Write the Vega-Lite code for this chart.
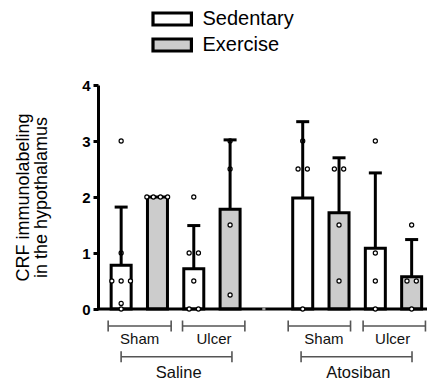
{
  "$schema": "https://vega.github.io/schema/vega-lite/v6.json",
  "width": 329,
  "height": 224,
  "autosize": {"type": "none"},
  "padding": {"left": 98, "top": 85, "right": 0, "bottom": 72},
  "config": {"view": {"stroke": null}, "font": "Liberation Sans"},
  "datasets": {
    "bars": [
      {"treatment": "Saline", "surgery": "Sham", "activity": "Sedentary", "slot": 1, "mean": 0.78, "upper": 1.82},
      {"treatment": "Saline", "surgery": "Sham", "activity": "Exercise", "slot": 2, "mean": 2.0, "upper": 2.0},
      {"treatment": "Saline", "surgery": "Ulcer", "activity": "Sedentary", "slot": 3, "mean": 0.72, "upper": 1.49},
      {"treatment": "Saline", "surgery": "Ulcer", "activity": "Exercise", "slot": 4, "mean": 1.78, "upper": 3.02},
      {"treatment": "Atosiban", "surgery": "Sham", "activity": "Sedentary", "slot": 6, "mean": 1.98, "upper": 3.345},
      {"treatment": "Atosiban", "surgery": "Sham", "activity": "Exercise", "slot": 7, "mean": 1.72, "upper": 2.7},
      {"treatment": "Atosiban", "surgery": "Ulcer", "activity": "Sedentary", "slot": 8, "mean": 1.085, "upper": 2.43},
      {"treatment": "Atosiban", "surgery": "Ulcer", "activity": "Exercise", "slot": 9, "mean": 0.577, "upper": 1.24}
    ],
    "points": [
      {"slot": 1, "v": 3, "j": 0}, {"slot": 1, "v": 1, "j": 0}, {"slot": 1, "v": 0.5, "j": -1}, {"slot": 1, "v": 0.5, "j": 0}, {"slot": 1, "v": 0.5, "j": 1}, {"slot": 1, "v": 0.1, "j": 0}, {"slot": 1, "v": 0, "j": 0},
      {"slot": 2, "v": 2, "j": -1.14}, {"slot": 2, "v": 2, "j": -0.44}, {"slot": 2, "v": 2, "j": 0.32}, {"slot": 2, "v": 2, "j": 1.09},
      {"slot": 3, "v": 2, "j": 0}, {"slot": 3, "v": 1, "j": -0.5}, {"slot": 3, "v": 1, "j": 0.5}, {"slot": 3, "v": 0.5, "j": 0}, {"slot": 3, "v": 0, "j": -0.5}, {"slot": 3, "v": 0, "j": 0.5},
      {"slot": 4, "v": 3, "j": 0}, {"slot": 4, "v": 2.5, "j": 0}, {"slot": 4, "v": 1.5, "j": 0}, {"slot": 4, "v": 0.25, "j": 0},
      {"slot": 6, "v": 3, "j": 0}, {"slot": 6, "v": 2.5, "j": -0.5}, {"slot": 6, "v": 2.5, "j": 0.5}, {"slot": 6, "v": 0, "j": 0},
      {"slot": 7, "v": 2.5, "j": -0.5}, {"slot": 7, "v": 2.5, "j": 0.5}, {"slot": 7, "v": 1.5, "j": 0}, {"slot": 7, "v": 0.5, "j": 0},
      {"slot": 8, "v": 3, "j": 0}, {"slot": 8, "v": 1, "j": 0}, {"slot": 8, "v": 0.5, "j": 0}, {"slot": 8, "v": 0, "j": 0},
      {"slot": 9, "v": 1.5, "j": 0}, {"slot": 9, "v": 0.5, "j": -0.5}, {"slot": 9, "v": 0.5, "j": 0.5}, {"slot": 9, "v": 0, "j": 0}
    ],
    "empty": [{"slot": 4.93, "v": 0}],
    "brackets": [
      {"label": "Sham", "level": "sub", "x1": 0.642, "x2": 2.377, "xm": 1.509, "y": -0.304, "ty": -0.63},
      {"label": "Ulcer", "level": "sub", "x1": 2.69, "x2": 4.407, "xm": 3.557, "y": -0.304, "ty": -0.63},
      {"label": "Sham", "level": "sub", "x1": 5.6, "x2": 7.317, "xm": 6.583, "y": -0.304, "ty": -0.63},
      {"label": "Ulcer", "level": "sub", "x1": 7.663, "x2": 9.38, "xm": 8.476, "y": -0.304, "ty": -0.63},
      {"label": "Saline", "level": "group", "x1": 0.999, "x2": 4.051, "xm": 2.583, "y": -0.852, "ty": -1.237},
      {"label": "Atosiban", "level": "group", "x1": 5.955, "x2": 9.01, "xm": 7.531, "y": -0.852, "ty": -1.237}
    ]
  },
  "layer": [
    {
      "data": {"name": "bars"},
      "mark": {"type": "bar", "orient": "vertical", "width": 20, "stroke": "black", "strokeWidth": 3},
      "encoding": {
        "x": {"field": "slot", "type": "quantitative", "scale": {"domain": [0.5, 9.285], "nice": false, "zero": false}, "axis": null},
        "y": {
          "field": "mean", "type": "quantitative",
          "scale": {"domain": [0, 4], "nice": false},
          "axis": {
            "values": [0, 1, 2, 3, 4], "format": "d", "grid": false,
            "title": ["CRF immunolabeling", "in the hypothalamus"],
            "titleFont": "Liberation Sans", "titleFontSize": 18, "titleFontWeight": "normal", "titleColor": "black",
            "titleX": -69.7, "titleY": 112, "titleAngle": 270, "titleAlign": "center", "titleBaseline": "alphabetic", "titleLineHeight": 18.5,
            "labelFont": "Liberation Sans", "labelFontSize": 15, "labelFontWeight": "bold", "labelColor": "black", "labelPadding": 3,
            "tickSize": 5, "tickWidth": 3, "tickColor": "black", "domainColor": "black", "domainWidth": 3
          }
        },
        "fill": {
          "field": "activity", "type": "nominal",
          "scale": {"domain": ["Sedentary", "Exercise"], "range": ["#ffffff", "#cccccc"]},
          "legend": {
            "orient": "none", "legendX": 52.2, "legendY": -76, "title": null, "padding": 0,
            "symbolType": "M-0.96,-0.3H0.96V0.3H-0.96Z", "symbolSize": 1600, "symbolStrokeColor": "black", "symbolStrokeWidth": 3.2,
            "labelFont": "Liberation Sans", "labelFontSize": 20, "labelColor": "black", "labelOffset": 8.3,
            "clipHeight": 20, "rowPadding": 6
          }
        }
      }
    },
    {
      "data": {"values": [{"v": 0}]},
      "mark": {"type": "rule", "stroke": "black", "strokeWidth": 3},
      "encoding": {"y": {"field": "v", "type": "quantitative"}}
    },
    {
      "data": {"name": "points"},
      "transform": [{"calculate": "datum.slot + datum.j * 0.2563", "as": "xj"}],
      "mark": {"type": "circle", "fill": "white", "stroke": "black", "strokeWidth": 1.2, "size": 17, "opacity": 1},
      "encoding": {
        "x": {"field": "xj", "type": "quantitative"},
        "y": {"field": "v", "type": "quantitative"}
      }
    },
    {
      "data": {"name": "bars"},
      "transform": [{"filter": "datum.upper > datum.mean"}],
      "mark": {"type": "rule", "stroke": "black", "strokeWidth": 3},
      "encoding": {
        "x": {"field": "slot", "type": "quantitative"},
        "y": {"field": "mean", "type": "quantitative"},
        "y2": {"field": "upper"}
      }
    },
    {
      "data": {"name": "bars"},
      "transform": [{"filter": "datum.upper > datum.mean"}],
      "mark": {"type": "tick", "orient": "horizontal", "color": "black", "size": 13, "thickness": 3, "opacity": 1},
      "encoding": {
        "x": {"field": "slot", "type": "quantitative"},
        "y": {"field": "upper", "type": "quantitative"}
      }
    },
    {
      "data": {"name": "empty"},
      "mark": {"type": "square", "color": "#9a9a9a", "size": 10, "opacity": 1},
      "encoding": {
        "x": {"field": "slot", "type": "quantitative"},
        "y": {"field": "v", "type": "quantitative"}
      }
    },
    {
      "data": {"name": "brackets"},
      "mark": {"type": "rule", "stroke": "#555555", "strokeWidth": 1.6},
      "encoding": {
        "x": {"field": "x1", "type": "quantitative"},
        "x2": {"field": "x2"},
        "y": {"field": "y", "type": "quantitative"}
      }
    },
    {
      "data": {"name": "brackets"},
      "mark": {"type": "tick", "orient": "vertical", "color": "#555555", "size": 11, "thickness": 1.6, "opacity": 1},
      "encoding": {
        "x": {"field": "x1", "type": "quantitative"},
        "y": {"field": "y", "type": "quantitative"}
      }
    },
    {
      "data": {"name": "brackets"},
      "mark": {"type": "tick", "orient": "vertical", "color": "#555555", "size": 11, "thickness": 1.6, "opacity": 1},
      "encoding": {
        "x": {"field": "x2", "type": "quantitative"},
        "y": {"field": "y", "type": "quantitative"}
      }
    },
    {
      "data": {"name": "brackets"},
      "transform": [{"filter": "datum.level === 'sub'"}],
      "mark": {"type": "text", "font": "Liberation Sans", "fontSize": 15, "color": "#111111", "align": "center", "baseline": "alphabetic"},
      "encoding": {
        "x": {"field": "xm", "type": "quantitative"},
        "y": {"field": "ty", "type": "quantitative"},
        "text": {"field": "label"}
      }
    },
    {
      "data": {"name": "brackets"},
      "transform": [{"filter": "datum.level === 'group'"}],
      "mark": {"type": "text", "font": "Liberation Sans", "fontSize": 16.5, "color": "#111111", "align": "center", "baseline": "alphabetic"},
      "encoding": {
        "x": {"field": "xm", "type": "quantitative"},
        "y": {"field": "ty", "type": "quantitative"},
        "text": {"field": "label"}
      }
    }
  ]
}
